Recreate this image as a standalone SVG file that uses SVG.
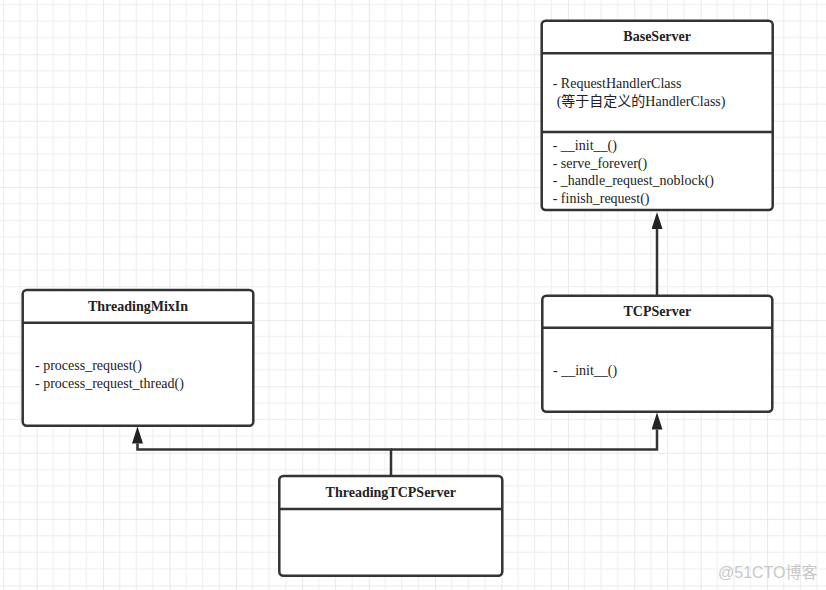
<svg xmlns="http://www.w3.org/2000/svg" width="826" height="590" viewBox="0 0 826 590">
<defs>
<pattern id="grid" patternUnits="userSpaceOnUse" x="36.7" y="54.3" width="66.4" height="66.4">
<rect x="0" y="0" width="66.4" height="66.4" fill="#ffffff"/>
<g fill="#eeeeee">
<rect x="16.1" y="0" width="1" height="66.4"/>
<rect x="32.7" y="0" width="1" height="66.4"/>
<rect x="49.3" y="0" width="1" height="66.4"/>
<rect x="0" y="16.1" width="66.4" height="1"/>
<rect x="0" y="32.7" width="66.4" height="1"/>
<rect x="0" y="49.3" width="66.4" height="1"/>
</g>
<g fill="#e4e4e4">
<rect x="-0.7" y="0" width="1.5" height="66.4"/>
<rect x="0" y="-0.7" width="66.4" height="1.5"/>
</g>
</pattern>
<marker id="tri" viewBox="0 0 17 11" refX="0" refY="5.5" markerWidth="17" markerHeight="11" markerUnits="userSpaceOnUse" orient="auto">
<path d="M0,0 L17,5.5 L0,11 Z" fill="#222"/>
</marker>
<style>
.box{fill:#ffffff;stroke:#333333;stroke-width:2.5}
.div{stroke:#333333;stroke-width:2.5;fill:none}
.title{font-family:"Liberation Serif","Noto Sans CJK SC",serif;font-size:14px;font-weight:bold;fill:#222;text-anchor:middle}
.txt{font-family:"Liberation Serif","Noto Sans CJK SC",serif;font-size:14px;fill:#222}
.conn{stroke:#333333;stroke-width:2.5;fill:none}
.wm{font-family:"Liberation Sans","Noto Sans CJK SC",sans-serif;font-size:16px;fill:#c8c8c8}
</style>
</defs>
<rect x="0" y="0" width="826" height="590" fill="url(#grid)"/>

<g id="connectors">
<path class="conn" d="M657,296 L657,229" marker-end="url(#tri)"/>
<path class="conn" d="M391,476 L391,449.5 L137.5,449.5 L137.5,443.5" marker-end="url(#tri)"/>
<path class="conn" d="M391,449.5 L657,449.5 L657,429.5" marker-end="url(#tri)"/>
</g>

<g id="BaseServer">
<rect class="box" x="541.7" y="20.7" width="231" height="189.3" rx="4"/>
<line class="div" x1="541.7" y1="53.3" x2="772.7" y2="53.3"/>
<line class="div" x1="541.7" y1="132" x2="772.7" y2="132"/>
<text class="title" x="657.2" y="41">BaseServer</text>
<text class="txt" x="552.7" y="88.3">- RequestHandlerClass</text>
<text class="txt" x="556.7" y="106">(等于自定义的HandlerClass)</text>
<text class="txt" x="552.7" y="150">- __init__()</text>
<text class="txt" x="552.7" y="167.5">- serve_forever()</text>
<text class="txt" x="552.7" y="185">- _handle_request_noblock()</text>
<text class="txt" x="552.7" y="202.5">- finish_request()</text>
</g>

<g id="ThreadingMixIn">
<rect class="box" x="22.7" y="290" width="230.6" height="135.7" rx="4"/>
<line class="div" x1="22.7" y1="322.7" x2="253.3" y2="322.7"/>
<text class="title" x="138" y="311">ThreadingMixIn</text>
<text class="txt" x="35" y="370">- process_request()</text>
<text class="txt" x="35" y="387.5">- process_request_thread()</text>
</g>

<g id="TCPServer">
<rect class="box" x="542.3" y="295.7" width="230" height="116" rx="4"/>
<line class="div" x1="542.3" y1="327.7" x2="772.3" y2="327.7"/>
<text class="title" x="657.3" y="316">TCPServer</text>
<text class="txt" x="553" y="375">- __init__()</text>
</g>

<g id="ThreadingTCPServer">
<rect class="box" x="279.3" y="476" width="223" height="99.7" rx="4"/>
<line class="div" x1="279.3" y1="509" x2="502.3" y2="509"/>
<text class="title" x="390.8" y="497">ThreadingTCPServer</text>
</g>

<text class="wm" x="718" y="578">@51CTO博客</text>
</svg>
